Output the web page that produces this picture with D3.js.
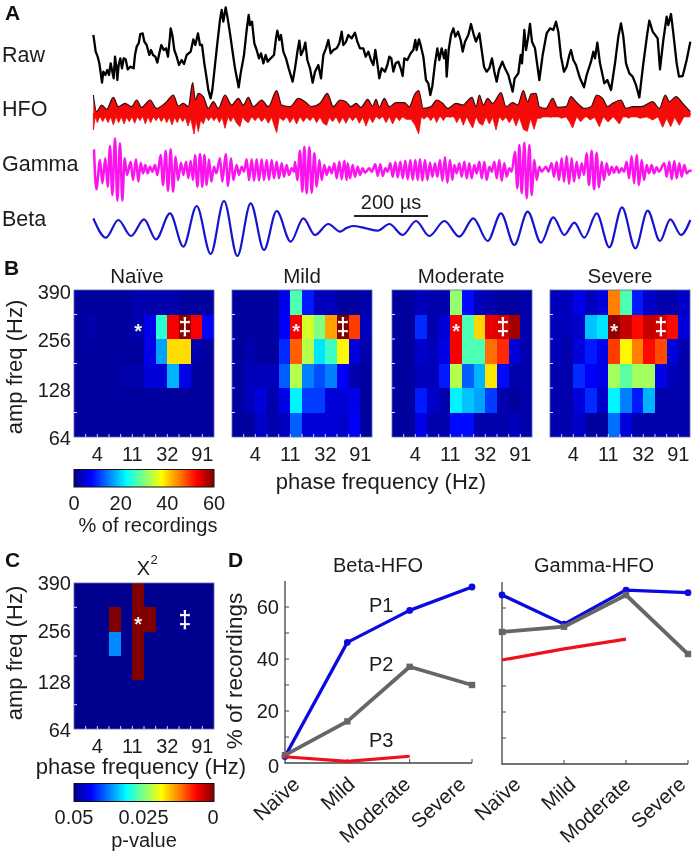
<!DOCTYPE html>
<html><head><meta charset="utf-8">
<script src="https://cdn.jsdelivr.net/npm/d3@7/dist/d3.min.js"></script>
<style>html,body{margin:0;padding:0;background:#fff}svg{display:block;filter:blur(0.35px)}text{font-family:"Liberation Sans",Arial,sans-serif;fill:#1c1c1c}</style>
</head><body><svg id="c" width="692" height="853"></svg>
<script>
// ---------- Panel A traces: [time, reading] pairs ----------
const rawTrace=[[280,105],[283,125],[287,155],[293,170],[298,190],[303,225],[306,248],[310,215],[316,225],[322,210],[327,225],[332,190],[337,215],[341,235],[345,170],[349,200],[352,240],[356,195],[361,175],[366,205],[371,175],[377,178],[383,208],[392,200],[401,205],[405,165],[410,140],[416,130],[421,102],[428,100],[433,125],[440,135],[448,165],[453,150],[459,165],[466,170],[472,188],[478,160],[484,135],[491,150],[498,145],[504,170],[509,120],[512,85],[517,105],[523,150],[530,170],[537,195],[545,180],[552,192],[560,165],[572,155],[580,118],[586,135],[594,100],[600,135],[606,135],[613,190],[620,235],[625,270],[632,295],[637,270],[645,195],[652,130],[660,60],[665,30],[670,65],[677,22],[683,55],[690,100],[697,150],[705,205],[716,262],[722,220],[732,165],[740,90],[746,45],[750,75],[756,65],[763,130],[770,150],[777,175],[783,160],[790,190],[797,165],[803,185],[812,175],[822,165],[828,115],[832,92],[838,120],[843,105],[850,155],[858,175],[866,205],[878,245],[885,205],[893,150],[898,122],[903,165],[910,150],[916,128],[922,180],[930,205],[938,248],[945,215],[955,195],[963,235],[970,165],[978,145],[985,120],[992,160],[1000,150],[1010,145],[1018,130],[1025,95],[1030,135],[1038,125],
[1045,105],[1055,115],[1065,98],[1072,125],[1080,145],[1090,145],[1097,170],[1105,155],[1113,180],[1120,195],[1126,150],[1132,190],[1138,235],[1145,205],[1155,215],[1162,195],[1168,170],[1174,175],[1180,215],[1187,190],[1195,185],[1202,205],[1208,228],[1213,175],[1222,180],[1232,160],[1240,150],[1246,120],[1250,150],[1257,118],[1263,140],[1270,170],[1278,240],[1285,250],[1291,285],[1297,258],[1305,190],[1312,145],[1318,180],[1325,145],[1332,175],[1337,150],[1340,230],[1346,150],[1353,105],[1360,85],[1366,110],[1374,95],[1382,120],[1388,155],[1395,125],[1405,105],[1413,72],[1420,100],[1428,125],[1438,100],[1445,150],[1452,200],[1460,215],[1468,205],[1476,175],[1483,215],[1490,245],[1497,210],[1507,185],[1515,205],[1525,225],[1538,275],[1544,235],[1555,220],[1562,165],[1566,190],[1573,90],[1578,150],[1584,115],[1590,72],[1596,125],[1605,145],[1618,240],[1628,165],[1640,100],[1650,85],[1660,90],[1668,65],[1675,95],[1683,170],[1692,215],[1700,200],[1708,165],[1713,150],[1720,180],[1728,195],[1740,235],[1752,262],[1760,225],[1773,185],[1780,155],[1785,175],[1792,128],[1800,190],[1813,250],[1822,240],[1833,270],[1845,190],[1855,110],[1863,70],[1870,110],[1878,190],[1888,220],[1898,230],[1908,255],[1918,292],[1930,190],[1942,100],[1948,62],[1958,95],[1973,115],[1980,208],[1990,120],[2000,50],[2005,75],[2013,42],[2020,100],[2030,190],[2037,230],[2048,228],[2060,180],[2071,125]];
const hfoUpper=[[280,285],[290,335],[305,315],[320,328],[340,292],[355,320],[375,310],[395,320],[410,300],[425,322],[450,300],[470,325],[500,305],[520,285],[535,318],[550,310],[565,320],[578,248],[586,300],[595,280],[610,290],[625,325],[640,305],[655,325],[675,285],[695,315],[715,295],[730,315],[745,292],[760,320],[785,300],[805,320],[830,272],[845,315],[870,320],[895,295],[915,305],[935,320],[960,310],[982,280],[1000,320],[1020,300],[1038,305],
[1053,320],[1068,310],[1083,322],[1103,298],[1118,318],[1128,298],[1138,322],[1153,295],[1168,320],[1188,308],[1213,308],[1228,320],[1243,285],[1256,272],[1270,325],[1293,320],[1310,300],[1328,310],[1343,325],[1368,310],[1388,315],[1416,292],[1428,320],[1438,285],[1450,315],[1463,295],[1478,310],[1503,278],[1518,320],[1538,308],[1553,315],[1570,272],[1583,305],[1593,282],[1608,280],[1618,320],[1638,325],[1658,295],[1673,322],[1698,320],[1713,290],[1728,305],[1753,325],[1773,320],[1790,285],[1808,295],[1823,320],[1838,310],[1863,300],[1878,325],[1898,320],[1923,320],[1958,305],[1978,325],[1996,285],[2008,305],[2028,290],[2048,310],[2071,335]];
const hfoLower=[[280,390],[286,350],[292,368],[300,348],[308,365],[316,350],[324,368],[332,350],[340,375],[348,350],[356,368],[364,350],[372,372],[380,352],[388,365],[396,350],[404,370],[412,350],[420,362],[428,348],[436,372],[444,350],[452,368],[460,350],[468,362],[476,350],[484,365],[492,350],[500,368],[508,352],[516,375],[524,352],[532,368],[540,350],[548,365],[556,352],[564,378],[572,355],[582,402],[588,360],[595,395],[602,360],[610,372],[618,350],[626,362],[634,350],[642,362],[650,350],[658,368],[666,352],[675,385],[684,350],[692,365],[700,350],[710,370],[720,380],[728,350],[736,362],[745,368],[755,350],[765,362],[775,350],[785,365],[795,352],[805,370],[815,352],[822,375],[830,398],[838,352],[850,362],[860,350],[870,368],[880,352],[890,372],[900,350],[910,365],[920,352],[930,362],[940,350],[950,368],[960,352],[970,370],[980,376],[988,352],[998,365],[1008,350],[1018,370],[1028,352],[1038,370],
[1048,350],[1058,362],[1068,350],[1078,370],[1088,352],[1098,378],[1108,352],[1118,368],[1128,348],[1138,358],[1148,348],[1158,368],[1168,350],[1178,372],[1188,350],[1198,362],[1208,350],[1218,358],[1233,358],[1245,375],[1256,402],[1264,350],[1272,358],[1282,346],[1292,362],[1302,348],[1310,368],[1320,346],[1330,362],[1340,346],[1350,352],[1360,345],[1370,368],[1380,350],[1390,376],[1400,350],[1410,370],[1418,384],[1428,350],[1438,370],[1448,376],[1458,350],[1468,372],[1478,352],[1488,390],[1498,350],[1508,362],[1518,352],[1528,368],[1538,352],[1548,378],[1558,352],[1570,388],[1582,394],[1592,355],[1602,388],[1612,355],[1622,355],[1636,345],[1652,352],[1668,345],[1684,355],[1698,350],[1708,365],[1718,384],[1730,350],[1742,365],[1758,348],[1770,360],[1784,352],[1798,380],[1810,350],[1824,366],[1840,350],[1858,372],[1872,345],[1886,355],[1900,345],[1920,355],[1940,350],[1958,360],[1974,350],[1988,382],[2000,355],[2012,380],[2024,352],[2038,376],[2052,350],[2071,345]];
// gamma cycles: [time, crest, trough]
const gammaCycles=[[282,58,178],[300,90,160],[316,85,170],[330,48,195],[345,25,212],[360,40,212],[374,85,135],[392,95,150],[408,88,155],[422,98,130],[436,105,130],[450,110,125],[465,105,135],[482,75,165],[497,62,182],[512,58,185],[527,80,150],[543,98,135],[558,95,145],[572,92,150],[585,75,170],[600,72,170],[613,75,165],[627,88,155],[642,110,130],[660,85,155],[677,72,168],[693,85,150],[710,105,135],[725,110,125],[740,88,150],[755,88,152],[770,88,152],[785,88,150],[800,90,150],[815,90,145],[830,95,145],[845,100,140],[860,105,135],[875,115,125],[885,95,150],[900,62,185],[913,50,190],[928,52,188],[943,70,170],[958,90,150],[973,105,135],[988,110,130],[1003,100,145],[1018,95,148],[1033,92,150],
[1043,100,145],[1058,105,140],[1073,110,135],[1088,115,128],[1108,115,125],[1126,103,138],[1141,103,138],[1156,115,125],[1171,100,140],[1186,97,142],[1201,95,145],[1216,92,148],[1231,90,150],[1246,90,150],[1260,88,152],[1275,90,150],[1290,98,140],[1305,100,140],[1320,90,152],[1335,82,158],[1350,90,150],[1363,105,130],[1378,100,140],[1393,95,145],[1408,100,145],[1423,105,130],[1438,95,145],[1453,95,150],[1468,110,125],[1483,95,145],[1498,90,152],[1513,100,140],[1528,115,125],[1545,65,175],[1558,45,190],[1573,38,205],[1588,45,195],[1603,90,150],[1618,110,125],[1638,110,125],[1655,100,140],[1670,95,150],[1685,85,155],[1700,78,162],[1715,85,155],[1730,95,145],[1745,100,135],[1760,70,165],[1775,62,178],[1790,68,172],[1805,95,150],[1820,100,135],[1835,110,128],[1850,110,128],[1865,115,125],[1880,95,145],[1895,78,160],[1910,75,165],[1925,90,150],[1940,105,130],[1955,105,130],[1970,112,125],[1993,100,140],[2008,95,148],[2023,93,145],[2038,100,140],[2053,105,130],[2068,122,122]];
const betaTrace=[[280,265],[318,323],[355,270],[393,318],[432,268],[468,328],[510,250],[550,350],[590,228],[632,372],[672,213],[712,378],[752,220],[792,360],[830,243],[872,335],[910,265],[945,315],[985,282],[1020,305],[1038,295],[1058,288],[1098,295],[1133,302],[1168,282],[1208,315],[1248,273],[1288,318],[1333,273],[1378,320],[1420,265],[1463,333],[1503,250],[1543,345],[1583,245],[1623,338],[1660,262],[1693,315],[1723,278],[1753,323],[1790,250],[1828,352],[1866,232],[1906,355],[1943,242],[1980,333],[2011,268],[2043,315],[2071,270]];
const traceLabels=["Raw","HFO","Gamma","Beta"];

// ---------- Panel B heat maps: % of recordings, rows top to bottom ----------
const severities=["Naïve","Mild","Moderate","Severe"];
const naive=[[1,1,1,1,1,2,2,2,2,1,1,1],[1,2,1,1,1,2,6,25,53,59,53,7],[1,1,1,1,1,1,6,17,39.5,39.5,2,1],[1,1,1,1,2,2,5,5,18,6,1,1],[1,1,1,1,1,1,1,1,1,1,1,1],[1,1,1,1,1,1,1,1,1,1,1,1]];
const mild=[[1,1,1,1,6,27,9,3,3,1,1,2],[1,1,1,1,7,53,35,30,43,60,49,3],[1,2,1,1,10,47,33,21,26,38,5,2],[1,3,3,3,13,33,15,12,15,7,2,1],[1,3,5,2,6,22,11,11,5,5,6,1],[1,1,4,2,3,13,5,5,5,4,7,1]];
const moderate=[[1,1,3,2,2,31,8,3,2,1,1,2],[1,1,10,2,5,53,27,40,54,55,58,2],[1,1,4,3,6,53,27,27,46,50,5,2],[1,1,3,3,9,33,13,18,39,8,2,2],[1,1,9,4,2,22,19,17,11,2,1,2],[1,1,6,2,2,8,8,2,2,2,3,2]];
const severe=[[3,3,6,3,5,45,27,9,4,2,2,4],[3,3,4,19,21,59,56,52,56,55,52,5],[3,2,5,9,6,49,38,45,52,48,5,2],[2,2,10,7,6,32,28,32,32,6,3,2],[2,2,5,10,4,22,15,9,18,2,2,2],[2,2,4,1,1,14,5,2,2,2,2,2]];
// ---------- Panel C: p-values ----------
const pValues=[[.05,.05,.05,.05,.05,0,.05,.05,.05,.05,.05,.05],[.05,.05,.05,0,.05,0,0,.05,.05,.05,.05,.05],[.05,.05,.05,.037,.05,0,.05,.05,.05,.05,.05,.05],[.05,.05,.05,.05,.05,0,.05,.05,.05,.05,.05,.05],[.05,.05,.05,.05,.05,.05,.05,.05,.05,.05,.05,.05],[.05,.05,.05,.05,.05,.05,.05,.05,.05,.05,.05,.05]];
const ampTicks=["390","256","128","64"];
const phaseTicks=["4","11","32","91"];
const pctTicks=[0,20,40,60];
const pTicks=[0.05,0.025,0];
// ---------- Panel D ----------
const conditions=["Naïve","Mild","Moderate","Severe"];
const betaP1=[2.5,46.4,58.7,67.7], betaP2=[3,16,37,30], betaP3=[2.4,0.6,2.6,null];
const gammaP1=[65,53.8,66.9,65.9], gammaP2=[50.8,52.8,65,42.3], gammaP3=[40,44.3,48,null];
const rateTicks=[0,20,40,60];

const svg=d3.select("#c");
const txt=(x,y,s,size,o={})=>{const t=svg.append("text").attr("x",x).attr("y",y).attr("font-size",size).text(s);
  if(o.anchor)t.attr("text-anchor",o.anchor); if(o.bold)t.attr("font-weight","bold"); if(o.fill)t.style("fill",o.fill);
  if(o.rotate!==undefined)t.attr("transform",`rotate(${o.rotate} ${x} ${y})`); return t;};

// jet colour map on t in [0,1]
const jet=d3.scaleLinear().domain([0,1/8,3/8,5/8,7/8,1]).range(["#00008f","#0000ff","#00ffff","#ffff00","#ff0000","#800000"]).clamp(true);

// ---- letters
[["A",5,20],["B",4,275],["C",5,567],["D",228,567]].forEach(d=>txt(d[1],d[2],d[0],21,{bold:true}).style("fill","#111"));

// ---- panel A
const tx=d3.scaleLinear().domain([0,2076]).range([0,692]);
const yTop=d3.scaleLinear().domain([0,405]).range([0,135]);
const yLow=d3.scaleLinear().domain([0,390]).range([130,260]);
[62,116,171,226].forEach((y,i)=>txt(2,y,traceLabels[i],21.5));
svg.append("path").datum(rawTrace).attr("fill","none").attr("stroke","#000").attr("stroke-width",2.3).attr("stroke-linejoin","round")
  .attr("d",d3.line().x(d=>tx(d[0])).y(d=>yTop(d[1])));
svg.append("path").datum(hfoUpper).attr("fill","#f50a0a")
  .attr("d",d3.area().x(d=>tx(d[0])).y0(()=>yTop(352)).y1(d=>yTop(d[1])).curve(d3.curveMonotoneX));
svg.append("path").datum(hfoLower).attr("fill","#f50a0a").attr("stroke","#f50a0a").attr("stroke-width",.8)
  .attr("d",d3.area().x(d=>tx(d[0])).y0(d=>yTop(d[1])).y1(()=>yTop(340)));
svg.append("path").datum(hfoUpper).attr("fill","none").attr("stroke","#2a1010").attr("stroke-width",1.2)
  .attr("d",d3.line().x(d=>tx(d[0])).y(d=>yTop(d[1])).curve(d3.curveMonotoneX));
const gammaPts=gammaCycles.flatMap(d=>[[d[0],d[1]],[d[0]+7,d[2]]]);
svg.append("path").datum(gammaPts).attr("fill","none").attr("stroke","#fb14ee").attr("stroke-width",2.5)
  .attr("d",d3.line().x(d=>tx(d[0])).y(d=>yLow(d[1])).curve(d3.curveMonotoneX));
svg.append("path").datum(betaTrace).attr("fill","none").attr("stroke","#1414d2").attr("stroke-width",2.2)
  .attr("d",d3.line().x(d=>tx(d[0])).y(d=>yLow(d[1])).curve(d3.curveMonotoneX));
svg.append("line").attr("x1",354).attr("x2",428).attr("y1",216).attr("y2",216).attr("stroke","#222").attr("stroke-width",2);
txt(391,209,"200 µs",20,{anchor:"middle"});

// ---- heat map helper
function heat(x0,y0,w,h,grid,colorOf,skipLabelled){
  const cols=d3.scaleBand().domain(d3.range(12)).range([x0,x0+w]);
  const rows=d3.scaleBand().domain(d3.range(6)).range([y0,y0+h]);
  const g=svg.append("g");
  grid.forEach((r,ri)=>r.forEach((v,ci)=>g.append("rect").attr("x",cols(ci)).attr("y",rows(ri)).attr("width",cols.bandwidth()).attr("height",rows.bandwidth()).attr("fill",colorOf(v)).attr("shape-rendering","crispEdges")));
  g.append("rect").attr("x",x0).attr("y",y0).attr("width",w).attr("height",h).attr("fill","none").attr("stroke","#5a6aa8").attr("stroke-width",.8);
  d3.range(1,12).forEach(i=>g.append("line").attr("x1",cols(i)).attr("x2",cols(i)).attr("y1",y0+h).attr("y2",y0+h-3).attr("stroke","#fff").attr("stroke-opacity",.85));
  d3.range(1,6).forEach(i=>{if(skipLabelled&&i%2===0)return;g.append("line").attr("x1",x0).attr("x2",x0+3).attr("y1",rows(i)).attr("y2",rows(i)).attr("stroke","#fff").attr("stroke-opacity",.85);});
  [2,5,8,11].forEach((c,i)=>txt(cols(c),y0+h+24,phaseTicks[i],20,{anchor:"middle"}));
  const sx=cols(5)+cols.bandwidth()/2, dx=cols(9)+cols.bandwidth()/2, my=rows(1)+rows.bandwidth()/2;
  txt(sx,my+11,"*",20,{anchor:"middle",bold:true,fill:"#f4f0f0"});
  txt(dx,my+8,"‡",23,{anchor:"middle",bold:true,fill:"#fff"});
}
const pctColor=v=>jet(v/60);
const pColor=v=>jet(1-v/0.05);
const hmX=[74,232,392,550], titleX=[137,302,461,620];
[naive,mild,moderate,severe].forEach((g,i)=>{heat(hmX[i],290,140,147,g,pctColor,i===0);
  txt(titleX[i],283,severities[i],20.5,{anchor:"middle"});});
heat(74,583,140,146,pValues,pColor,true);

// amp labels
const ampLabelB=[299,347,397,445], ampLabelC=[590,638,689,737];
ampTicks.forEach((s,i)=>{txt(71,ampLabelB[i],s,20,{anchor:"end"});txt(71,ampLabelC[i],s,20,{anchor:"end"});});
txt(22,367,"amp freq (Hz)",22,{anchor:"middle",rotate:-90});
txt(22,653,"amp freq (Hz)",22,{anchor:"middle",rotate:-90});
txt(381,489,"phase frequency (Hz)",22,{anchor:"middle"});
txt(141,774,"phase frequency (Hz)",22,{anchor:"middle"});
txt(143.5,575,"X",20,{anchor:"middle"});
txt(154,564,"2",13,{anchor:"middle"});

// colour bars
const defs=svg.append("defs");
const grad=defs.append("linearGradient").attr("id","jetg");
d3.range(0,1.0001,1/16).forEach(t=>grad.append("stop").attr("offset",t).attr("stop-color",jet(t)));
function cbar(x,y,w,h,scale,ticks,fmt,labY){
  svg.append("rect").attr("x",x).attr("y",y).attr("width",w).attr("height",h).attr("fill","url(#jetg)").attr("stroke","#111").attr("stroke-width",1);
  ticks.forEach(t=>txt(scale(t),labY,fmt(t),20,{anchor:"middle"}));
}
cbar(74,469.5,140,17.5,d3.scaleLinear().domain([0,60]).range([74,214]),pctTicks,String,510);
txt(148,532,"% of recordings",20,{anchor:"middle"});
cbar(74,783.5,140,18,d3.scaleLinear().domain([0.05,0]).range([74,213]),pTicks,String,824);
txt(144,847,"p-value",20,{anchor:"middle"});

// ---- panel D
function lines(x0,x1,yBase,series,title,titleX,labelRange){
  const x=d3.scalePoint().domain(conditions).range([x0,x1]);
  const y=d3.scaleLinear().domain([0,70]).range([yBase,yBase-182]);
  const axis="#444";
  svg.append("path").attr("fill","none").attr("stroke",axis).attr("stroke-width",1.3).attr("d",`M${x0},${y(70)}V${y(0)}H${x1}`);
  d3.range(10,70,10).forEach(v=>svg.append("line").attr("x1",x0).attr("x2",x0+4).attr("y1",y(v)).attr("y2",y(v)).attr("stroke",axis));
  conditions.slice(1).forEach(c=>svg.append("line").attr("x1",x(c)).attr("x2",x(c)).attr("y1",yBase).attr("y2",yBase-4).attr("stroke",axis));
  txt(titleX,572,title,20,{anchor:"middle"});
  const ln=d3.line().defined(v=>v!==null).x((v,i)=>x(conditions[i])).y(v=>y(v));
  series.forEach(s=>{
    svg.append("path").datum(s.v).attr("fill","none").attr("stroke",s.c).attr("stroke-width",s.w).attr("stroke-linejoin","round").attr("d",ln);
    s.v.forEach((v,i)=>{ if(v===null||!s.m)return;
      if(s.m==="o")svg.append("circle").attr("cx",x(conditions[i])).attr("cy",y(v)).attr("r",3.4).attr("fill",s.c);
      else svg.append("rect").attr("x",x(conditions[i])-3.2).attr("y",y(v)-3.2).attr("width",6.4).attr("height",6.4).attr("fill",s.c);});
  });
  const lx=d3.scalePoint().domain(conditions).range(labelRange);
  conditions.forEach(c=>txt(lx(c),786,c,20.5,{anchor:"end",rotate:-42}));
  return y;
}
const blue="#0a0ae0",gray="#666",red="#ee1020";
const yB=lines(285,472,763,[{v:betaP1,c:blue,w:3.3,m:"o"},{v:betaP2,c:gray,w:3.8,m:"s"},{v:betaP3,c:red,w:3.2}],"Beta-HFO",378,[301,467]);
lines(502,688,764,[{v:gammaP1,c:blue,w:3.3,m:"o"},{v:gammaP2,c:gray,w:3.8,m:"s"},{v:gammaP3,c:red,w:3.2}],"Gamma-HFO",594,[522,687]);
rateTicks.forEach(v=>txt(279,yB(v)+(v===0?10:7),String(v),20,{anchor:"end"}));
txt(242,671,"% of recordings",22.5,{anchor:"middle",rotate:-90});
txt(369,612,"P1",20);txt(369,671,"P2",20);txt(369,747,"P3",20);
</script></body></html>
